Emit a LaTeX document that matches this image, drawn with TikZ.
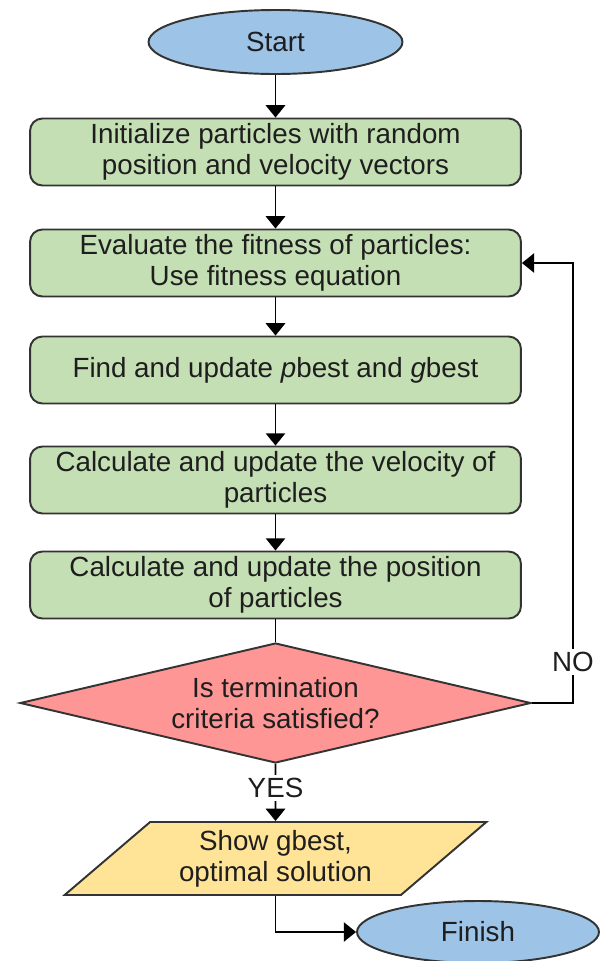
\documentclass[tikz,border=0pt]{standalone}
\usepackage{fontspec}
\setmainfont{Liberation Sans}
\usetikzlibrary{shapes.geometric,arrows.meta}
\definecolor{boxgreen}{HTML}{C5DFB4}
\definecolor{termblue}{HTML}{9DC3E6}
\definecolor{decred}{HTML}{FF9696}
\definecolor{outyellow}{HTML}{FFE396}
\definecolor{txt}{HTML}{1E1E1E}
\begin{document}
\begin{tikzpicture}[x=0.02cm,y=-0.02cm,line width=1.1pt,
  every node/.style={text=txt,font=\fontsize{15.8}{17.8}\selectfont,align=center,inner sep=0pt},
  proc/.style={draw=black!80,fill=boxgreen,rounded corners=7pt,minimum width=9.82cm,minimum height=1.34cm},
  term/.style={ellipse,draw=black!80,fill=termblue,minimum width=5.08cm,minimum height=1.28cm},
  flow/.style={-{Triangle[width=11pt,length=7pt]}}]
\useasboundingbox (0,0) rectangle (601,961);
\node[term] (st) at (275.5,42) {Start};
\node[proc] (n1) at (275.5,152) {Initialize particles with random\\position and velocity vectors};
\node[proc] (n2) at (275.5,263) {Evaluate the fitness of particles:\\Use fitness equation};
\node[proc] (n3) at (275.5,370) {Find and update \textit{p}best and \textit{g}best};
\node[proc] (n4) at (275.5,480) {Calculate and update the velocity of\\particles};
\node[proc] (n5) at (275.5,585) {Calculate and update the position\\of particles};
\node[diamond,aspect=4.26,draw=black!80,fill=decred,minimum width=10.22cm,minimum height=2.4cm] (dc) at (275.5,703)
  {Is termination\\criteria satisfied?};
\node[trapezium,trapezium stretches=true,trapezium left angle=41,trapezium right angle=139,
  draw=black!80,fill=outyellow,minimum width=8.46cm,minimum height=1.46cm] (sh) at (275.5,858.5)
  {Show gbest,\\optimal solution};
\node[term,minimum width=4.84cm,minimum height=1.24cm] (fin) at (478,932) {Finish};
\coordinate (c1) at (573,703);
\coordinate (c2) at (573,263);

  \draw[flow] (st) -- (n1);
  \draw[flow] (n1) -- (n2);
  \draw[flow] (n2) -- (n3);
  \draw[flow] (n3) -- (n4);
  \draw[flow] (n4) -- (n5);
  \draw (n5) -- (dc);
  \draw[flow] (dc.south) -- node[pos=0.42,fill=white,inner sep=2pt] {YES} (sh.north);
  \draw[flow] (dc.east) -- (c1) -- node[pos=0.093,fill=white,inner sep=2pt] {NO} (c2) -- (n2.east);
  \draw[flow] (sh.south) |- (fin.west);
\end{tikzpicture}
\end{document}
